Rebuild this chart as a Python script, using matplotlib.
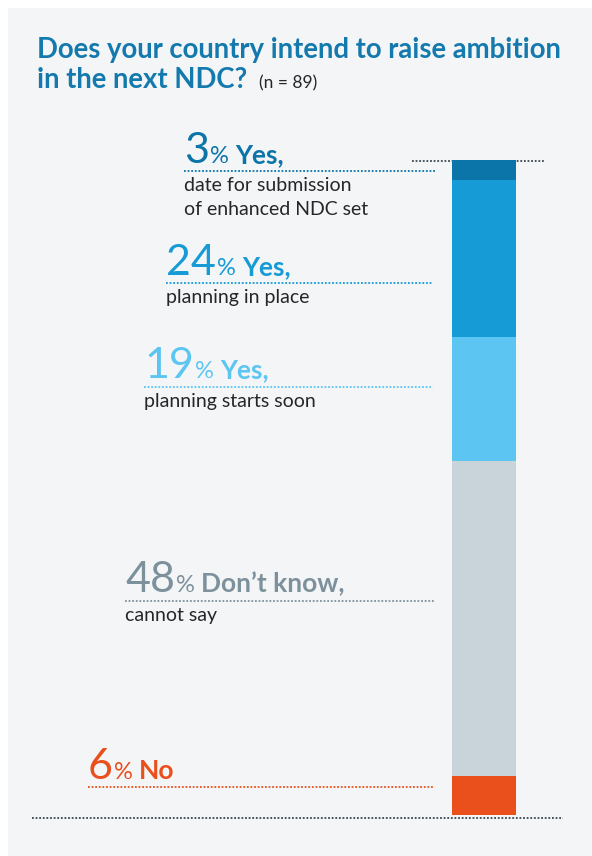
import matplotlib
matplotlib.use("Agg")
import matplotlib.pyplot as plt
from matplotlib.patches import Rectangle

# Survey answers, top of the bar to the bottom
shares = [3, 24, 19, 48, 6]
headlines = ["Yes,", "Yes,", "Yes,", "Don\u2019t know,", "No"]
details = [
    ["date for submission", "of enhanced NDC set"],
    ["planning in place"],
    ["planning starts soon"],
    ["cannot say"],
    [],
]
bar_colors = ["#0b74a8", "#169bd6", "#5cc5f2", "#c8d3da", "#e9501c"]
text_colors = ["#0b74a8", "#169bd6", "#5cc5f2", "#7d919c", "#e9501c"]
sample_size = 89

# label anchors in pixels: left x, baseline of the big number, dotted rule y, rule end
label_x = [184, 166, 144, 125, 88]
label_base = [163, 275, 378, 592, 779]
rule_y = [171, 283, 387, 601, 787]
rule_end = [436, 432, 433, 435, 433]

FONT = "Lato"
W, H = 592, 856

fig = plt.figure(figsize=(W / 100, H / 100), dpi=100)
fig.patch.set_facecolor("white")

# pixel-space overlay for the panel and the annotations
ax = fig.add_axes([0, 0, 1, 1])
ax.set_xlim(0, W)
ax.set_ylim(H, 0)
ax.axis("off")
ax.add_patch(Rectangle((8, 8), W - 8, H - 8, facecolor="#f3f5f7", edgecolor="none", zorder=0))

renderer = fig.canvas.get_renderer()


def run_text(x, y, parts):
    """Draw text pieces one after another on the same baseline."""
    for s, kw, gap in parts:
        t = ax.text(x, y, s, va="baseline", ha="left", family=FONT, **kw)
        bb = t.get_window_extent(renderer=renderer)
        x += bb.width + gap
    return x


# title
ax.text(37, 58, "Does your country intend to raise ambition", family=FONT,
        fontsize=19.8, fontweight="bold", color="#1479ad", va="baseline")
end = run_text(37, 88, [("in the next NDC?", dict(fontsize=19.8, fontweight="bold", color="#1479ad"), 12)])
ax.text(end, 88, f"(n = {sample_size})", family=FONT, fontsize=12.5, color="#262626", va="baseline")

# labels with dotted rules
for i, pct in enumerate(shares):
    c = text_colors[i]
    run_text(label_x[i], label_base[i], [
        (str(pct), dict(fontsize=31, fontweight="normal", color=c), 1),
        ("%", dict(fontsize=17, fontweight="normal", color=c), 6),
        (headlines[i], dict(fontsize=19, fontweight="bold", color=c), 0),
    ])
    ax.plot([label_x[i], rule_end[i]], [rule_y[i], rule_y[i]], color=c,
            linestyle=(0, (1, 1)), linewidth=1.3)
    for j, line in enumerate(details[i]):
        ax.text(label_x[i], rule_y[i] + 20 + 24 * j, line, family=FONT, fontsize=14,
                color="#262626", va="baseline")

# top and bottom dotted rules
ax.plot([412, 544], [160.5, 160.5], color="#3a4650", linestyle=(0, (1, 1)), linewidth=1.3)
ax.plot([32, 563], [818, 818], color="#3a4650", linestyle=(0, (1, 1)), linewidth=1.3)

# stacked bar
bx = fig.add_axes([452 / W, (H - 815) / H, 64 / W, 655 / H])
bottom = 0
for v, col in zip(shares, bar_colors):
    bx.bar(0, v, bottom=bottom, width=1, color=col, linewidth=0)
    bottom += v
bx.set_xlim(-0.5, 0.5)
bx.set_ylim(sum(shares), 0)
bx.axis("off")

fig.savefig("out.png", dpi=100)
